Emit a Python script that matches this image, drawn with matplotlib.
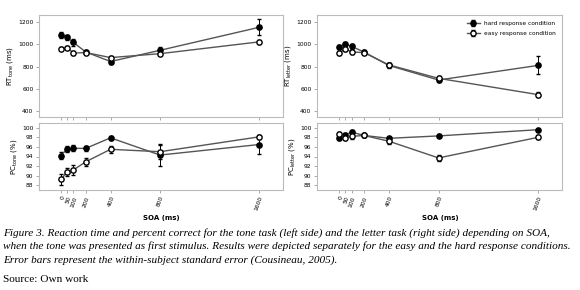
import matplotlib.pyplot as plt

soa = [0, 50, 100, 200, 400, 800, 1600]
soa_labels = ["0", "50", "100", "200", "400", "800", "1600"]

rt_tone_hard = [1080, 1060, 1015, 930, 845, 945, 1150]
rt_tone_hard_err = [25, 25, 30, 15, 20, 30, 70]
rt_tone_easy = [960, 970, 920, 925, 880, 915, 1020]
rt_tone_easy_err = [15, 15, 15, 15, 15, 15, 20]

rt_letter_hard = [975, 1000, 980, 930, 810, 680, 810]
rt_letter_hard_err = [20, 20, 20, 15, 20, 20, 80]
rt_letter_easy = [920, 960, 930, 925, 815, 695, 550]
rt_letter_easy_err = [20, 20, 20, 15, 20, 20, 25]

pc_tone_hard = [94.2, 95.6, 95.7, 95.7, 97.9, 94.3, 96.5]
pc_tone_hard_err = [0.7, 0.6, 0.6, 0.5, 0.4, 2.3, 2.0]
pc_tone_easy = [89.2, 90.8, 91.2, 92.9, 95.5, 95.0, 98.1]
pc_tone_easy_err = [1.2, 0.8, 1.0, 0.8, 0.7, 1.5, 0.4]

pc_letter_hard = [97.9, 98.5, 99.1, 98.4, 97.8, 98.3, 99.6]
pc_letter_hard_err = [0.4, 0.4, 0.4, 0.3, 0.3, 0.3, 0.2]
pc_letter_easy = [98.8, 97.9, 98.2, 98.4, 97.2, 93.7, 98.0]
pc_letter_easy_err = [0.4, 0.5, 0.5, 0.3, 0.5, 0.6, 0.4]

caption_lines = [
    "Figure 3. Reaction time and percent correct for the tone task (left side) and the letter task (right side) depending on SOA,",
    "when the tone was presented as first stimulus. Results were depicted separately for the easy and the hard response conditions.",
    "Error bars represent the within-subject standard error (Cousineau, 2005).",
]

LINE = "#555555"
FRAME = "#bbbbbb"

fig = plt.figure(figsize=(5.8, 2.9), dpi=100)
W, H = 580, 290


def box(x0, y0, x1, y1):
    return [x0 / W, 1 - y1 / H, (x1 - x0) / W, (y1 - y0) / H]


def draw(ax, hard, hard_err, easy, easy_err, ylim, yticks, ylabel, show_x):
    ax.errorbar(soa, hard, yerr=hard_err, color=LINE, lw=1, marker="o", ms=3.8,
                mfc="black", mec="black", ecolor="black", elinewidth=0.7, capsize=1.3,
                label="hard response condition", zorder=3)
    ax.errorbar(soa, easy, yerr=easy_err, color=LINE, lw=1, marker="o", ms=3.8,
                mfc="white", mec="black", ecolor="black", elinewidth=0.7, capsize=1.3,
                label="easy response condition", zorder=3)
    ax.set_xlim(-178, 1794)
    ax.set_ylim(*ylim)
    ax.set_yticks(yticks)
    ax.set_xticks(soa)
    ax.tick_params(labelsize=4.3, length=2, width=0.5, color="#888888", pad=2)
    if show_x:
        ax.set_xticklabels(soa_labels, rotation=70, ha="right", rotation_mode="anchor")
    else:
        ax.set_xticklabels([])
    ax.set_ylabel(ylabel, fontsize=5, labelpad=2)
    for s in ax.spines.values():
        s.set_color(FRAME)
        s.set_linewidth(0.8)


ax1 = fig.add_axes(box(39, 15, 283, 117))
draw(ax1, rt_tone_hard, rt_tone_hard_err, rt_tone_easy, rt_tone_easy_err,
     (350, 1260), [400, 600, 800, 1000, 1200], r"RT$_{\mathrm{tone}}$ (ms)", False)
ax2 = fig.add_axes(box(317, 15, 562, 117))
draw(ax2, rt_letter_hard, rt_letter_hard_err, rt_letter_easy, rt_letter_easy_err,
     (350, 1260), [400, 600, 800, 1000, 1200], r"RT$_{\mathrm{letter}}$ (ms)", False)
ax2.legend(loc="upper right", fontsize=4.2, frameon=False, handlelength=2.2,
           borderaxespad=0.6, labelspacing=0.8)
ax3 = fig.add_axes(box(39, 123, 283, 190))
draw(ax3, pc_tone_hard, pc_tone_hard_err, pc_tone_easy, pc_tone_easy_err,
     (87, 101), [88, 90, 92, 94, 96, 98, 100], r"PC$_{\mathrm{tone}}$ (%)", True)
ax4 = fig.add_axes(box(317, 123, 562, 190))
draw(ax4, pc_letter_hard, pc_letter_hard_err, pc_letter_easy, pc_letter_easy_err,
     (87, 101), [88, 90, 92, 94, 96, 98, 100], r"PC$_{\mathrm{letter}}$ (%)", True)

fig.text(161 / W, 1 - 218 / H, "SOA (ms)", fontsize=5, fontweight="bold",
         ha="center", va="center")
fig.text(440 / W, 1 - 218 / H, "SOA (ms)", fontsize=5, fontweight="bold",
         ha="center", va="center")

for i, line in enumerate(caption_lines):
    fig.text(3 / W, 1 - (233 + 13.5 * i) / H, line, fontsize=8.1,
             family="Liberation Serif", style="italic", ha="left", va="center")
fig.text(3 / W, 1 - 280 / H, "Source: Own work", fontsize=8.1,
         family="Liberation Serif", ha="left", va="center")

fig.savefig("out.png", dpi=100)
